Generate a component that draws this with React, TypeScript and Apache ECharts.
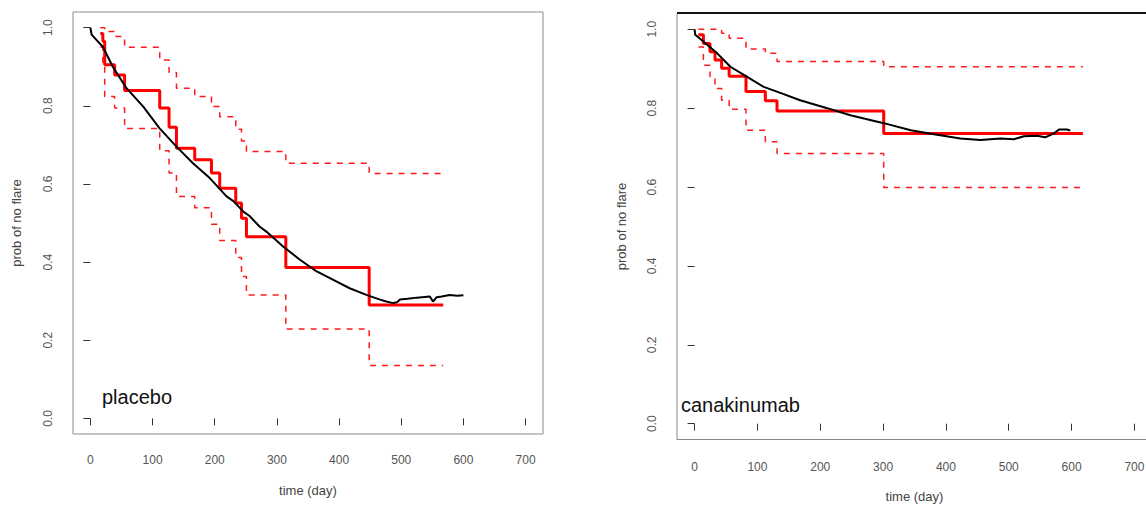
import React, { useEffect, useRef } from "react";
import * as echarts from "echarts";

// ---------- data ----------
const xTicks = [0, 100, 200, 300, 400, 500, 600, 700];
const yTicks = [0, 0.2, 0.4, 0.6, 0.8, 1.0];

// placebo: Kaplan-Meier step estimate with confidence band
const placeboTimes = [16, 20, 23, 39, 55, 111.5, 126.5, 138.4, 167.8, 194.7, 208, 233.8, 243, 251, 314.3, 448.4, 567.5];
const placeboKM = [0.985, 0.965, 0.905, 0.879, 0.839, 0.794, 0.745, 0.691, 0.662, 0.628, 0.589, 0.551, 0.512, 0.465, 0.386, 0.29, 0.29];
const placeboUpper = [1.0, 1.0, 0.99, 0.977, 0.95, 0.917, 0.885, 0.845, 0.824, 0.798, 0.772, 0.74, 0.71, 0.683, 0.653, 0.627, 0.627];
const placeboLower = [0.95, 0.905, 0.824, 0.794, 0.742, 0.685, 0.628, 0.568, 0.539, 0.497, 0.455, 0.412, 0.363, 0.316, 0.229, 0.135, 0.135];
// placebo: smooth model curve
const placeboModelT = [0, 1, 2, 10, 20, 36, 58, 85, 111, 138, 165, 192, 219, 230, 246, 256, 272, 283, 310, 337, 364, 390, 417, 444, 466, 476, 487, 493, 498, 510, 525, 546, 551, 557, 565, 578, 590, 600];
const placeboModelS = [1.0, 0.99, 0.982, 0.968, 0.951, 0.9, 0.845, 0.798, 0.743, 0.696, 0.653, 0.615, 0.568, 0.556, 0.529, 0.518, 0.491, 0.478, 0.44, 0.406, 0.376, 0.355, 0.333, 0.316, 0.304, 0.299, 0.295, 0.297, 0.304, 0.306, 0.309, 0.312, 0.299, 0.31, 0.312, 0.316, 0.314, 0.315];

// canakinumab
const canaTimes = [6, 14, 24.5, 32.5, 43, 55, 81.8, 112.6, 131.2, 301, 618];
const canaKM = [0.986, 0.964, 0.943, 0.922, 0.901, 0.881, 0.842, 0.819, 0.793, 0.736, 0.736];
const canaUpper = [1.0, 1.0, 1.0, 1.0, 0.99, 0.977, 0.95, 0.939, 0.918, 0.905, 0.905];
const canaLower = [0.955, 0.909, 0.88, 0.85, 0.82, 0.797, 0.744, 0.715, 0.685, 0.599, 0.599];
const canaModelT = [0, 1, 14, 36, 57, 83, 110, 131, 168, 211, 248, 301, 344, 381, 423, 455, 487, 508, 524, 545, 558, 572, 580, 593, 598];
const canaModelS = [1.0, 0.986, 0.969, 0.939, 0.905, 0.88, 0.854, 0.842, 0.82, 0.8, 0.782, 0.762, 0.744, 0.734, 0.723, 0.719, 0.723, 0.721, 0.729, 0.73, 0.726, 0.736, 0.746, 0.746, 0.743];

const panelLabels = ["placebo", "canakinumab"];
const xTitle = "time (day)";
const yTitle = "prob of no flare";

// ---------- helpers ----------
const zip = (a: number[], b: number[]) => a.map((v, i) => [v, b[i]]);
const FONT = "'Liberation Sans', Arial, Helvetica, sans-serif";

function stepSeries(idx: number, t: number[], v: number[], dashed: boolean) {
  return {
    type: "line",
    xAxisIndex: idx,
    yAxisIndex: idx,
    data: zip(t, v),
    step: "end",
    symbol: "none",
    silent: true,
    z: dashed ? 2 : 3,
    lineStyle: dashed
      ? { color: "#ff1a1a", width: 1.5, type: [6, 6] }
      : { color: "#ff0000", width: 3 },
  };
}

function modelSeries(idx: number, t: number[], s: number[]) {
  return {
    type: "line",
    xAxisIndex: idx,
    yAxisIndex: idx,
    data: zip(t, s),
    symbol: "none",
    silent: true,
    z: 4,
    lineStyle: { color: "#000000", width: 2 },
  };
}

function xAxisOf(idx: number, gap: number, margin: number) {
  return {
    type: "value",
    gridIndex: idx,
    min: -28,
    max: 728,
    offset: 2,
    name: xTitle,
    nameLocation: "middle",
    nameGap: gap,
    nameTextStyle: { fontSize: 13, color: "#444", fontFamily: FONT },
    axisLine: { show: false },
    splitLine: { show: false },
    axisTick: { show: true, length: 7, customValues: xTicks, lineStyle: { color: "#333", width: 1 } },
    axisLabel: { customValues: xTicks, margin: margin, fontSize: 12, color: "#555", fontFamily: FONT },
  };
}

function yAxisOf(idx: number, gap: number, margin: number) {
  return {
    type: "value",
    gridIndex: idx,
    min: -0.04,
    max: 1.04,
    name: yTitle,
    nameLocation: "middle",
    nameGap: gap,
    nameTextStyle: { fontSize: 13, color: "#444", fontFamily: FONT },
    axisLine: { show: false },
    splitLine: { show: false },
    axisTick: { show: true, length: 7, customValues: yTicks, lineStyle: { color: "#333", width: 1 } },
    axisLabel: {
      customValues: yTicks,
      rotate: 90,
      margin: margin,
      fontSize: 12,
      color: "#555",
      fontFamily: FONT,
      formatter: (v: number) => v.toFixed(1),
    },
  };
}

export default function App() {
  const ref = useRef<HTMLDivElement>(null);

  useEffect(() => {
    if (!ref.current) return;
    const chart = echarts.init(ref.current, undefined, { renderer: "svg" });
    const option = {
      animation: false,
      backgroundColor: "#ffffff",
      grid: [
        {
          left: 73, top: 12, width: 470, height: 422, show: true,
          borderColor: "#8a8a8a", borderWidth: 1, outerBoundsMode: "none", containLabel: false,
        },
        {
          left: 677, top: 13.5, width: 475, height: 426, show: true,
          borderColor: "#8a8a8a", borderWidth: 1, outerBoundsMode: "none", containLabel: false,
        },
      ],
      xAxis: [xAxisOf(0, 48, 18), xAxisOf(1, 48, 19)],
      yAxis: [yAxisOf(0, 50, 19), yAxisOf(1, 49, 19)],
      series: [
        stepSeries(0, placeboTimes, placeboUpper, true),
        stepSeries(0, placeboTimes, placeboLower, true),
        stepSeries(0, placeboTimes, placeboKM, false),
        modelSeries(0, placeboModelT, placeboModelS),
        stepSeries(1, canaTimes, canaUpper, true),
        stepSeries(1, canaTimes, canaLower, true),
        stepSeries(1, canaTimes, canaKM, false),
        modelSeries(1, canaModelT, canaModelS),
      ],
      graphic: [
        {
          type: "line",
          shape: { x1: 677, y1: 13, x2: 1160, y2: 13 },
          style: { stroke: "#111", lineWidth: 2 },
          silent: true,
        },
        {
          type: "text",
          x: 102,
          y: 397,
          style: { text: panelLabels[0], font: `20px ${FONT}`, fill: "#111", verticalAlign: "middle" },
          silent: true,
        },
        {
          type: "text",
          x: 681,
          y: 404.5,
          style: { text: panelLabels[1], font: `20px ${FONT}`, fill: "#111", verticalAlign: "middle" },
          silent: true,
        },
      ],
    };
    chart.setOption(option as any);
    return () => chart.dispose();
  }, []);

  return (
    <div
      ref={ref}
      style={{ position: "fixed", left: 0, top: 0, width: 1160, height: 505, background: "#fff" }}
    />
  );
}
